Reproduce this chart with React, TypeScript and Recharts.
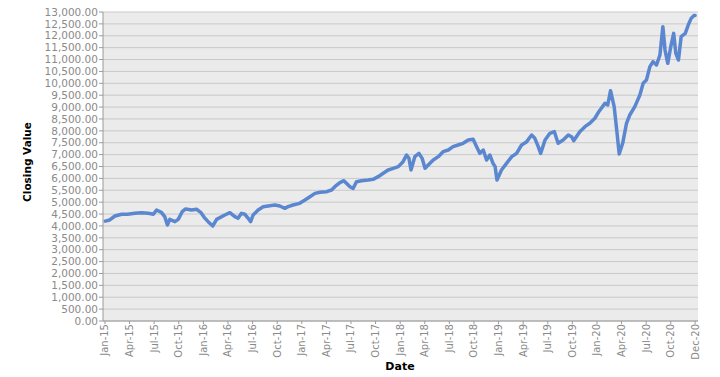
import React from 'react';
import { LineChart, Line, XAxis, YAxis, CartesianGrid } from 'recharts';

const dates: string[] = [
  '2015-01-02', '2015-01-19', '2015-02-07', '2015-03-02', '2015-03-25', '2015-04-20', '2015-05-15', '2015-06-09',
  '2015-06-28', '2015-07-10', '2015-07-28', '2015-08-10', '2015-08-20', '2015-08-29', '2015-09-17', '2015-09-29',
  '2015-10-14', '2015-10-27', '2015-11-18', '2015-12-06', '2015-12-22', '2016-01-04', '2016-01-19', '2016-02-05',
  '2016-02-19', '2016-03-20', '2016-04-08', '2016-04-26', '2016-05-08', '2016-05-21', '2016-06-03', '2016-06-15',
  '2016-06-24', '2016-07-03', '2016-07-22', '2016-08-10', '2016-09-04', '2016-09-23', '2016-10-11', '2016-10-30',
  '2016-11-11', '2016-11-29', '2016-12-24', '2017-01-13', '2017-02-01', '2017-02-18', '2017-03-08', '2017-04-02',
  '2017-04-20', '2017-05-02', '2017-05-21', '2017-06-05', '2017-06-21', '2017-06-27', '2017-07-09', '2017-07-22',
  '2017-08-10', '2017-09-04', '2017-09-22', '2017-10-11', '2017-10-30', '2017-11-17', '2017-12-06', '2017-12-25',
  '2018-01-12', '2018-01-25', '2018-02-03', '2018-02-10', '2018-02-23', '2018-03-10', '2018-03-22', '2018-04-02',
  '2018-04-20', '2018-05-02', '2018-05-21', '2018-06-08', '2018-06-27', '2018-07-15', '2018-08-03', '2018-08-22',
  '2018-09-10', '2018-09-28', '2018-10-11', '2018-10-23', '2018-11-05', '2018-11-17', '2018-11-29', '2018-12-11',
  '2018-12-19', '2018-12-26', '2019-01-12', '2019-01-31', '2019-02-18', '2019-03-07', '2019-03-26', '2019-04-14',
  '2019-05-02', '2019-05-14', '2019-05-27', '2019-06-05', '2019-06-21', '2019-07-09', '2019-07-26', '2019-08-09',
  '2019-08-28', '2019-09-16', '2019-09-28', '2019-10-06', '2019-10-29', '2019-11-17', '2019-12-05', '2019-12-24',
  '2020-01-08', '2020-01-31', '2020-02-10', '2020-02-20', '2020-03-04', '2020-03-15', '2020-03-23', '2020-04-05',
  '2020-04-19', '2020-05-01', '2020-05-20', '2020-06-08', '2020-06-20', '2020-07-02', '2020-07-15', '2020-07-27',
  '2020-08-09', '2020-08-22', '2020-09-02', '2020-09-10', '2020-09-20', '2020-10-01', '2020-10-12', '2020-10-20',
  '2020-10-30', '2020-11-09', '2020-11-24', '2020-12-05', '2020-12-16', '2020-12-26', '2020-12-31',
];

const closes: number[] = [
  4200, 4250, 4417, 4490, 4490, 4530, 4556, 4530,
  4490, 4670, 4573, 4390, 4040, 4277, 4178, 4277,
  4598, 4712, 4670, 4700, 4573, 4362, 4178, 3997,
  4277, 4460, 4556, 4390, 4320, 4530, 4490, 4320,
  4178, 4460, 4670, 4810, 4852, 4880, 4838, 4740,
  4810, 4880, 4950, 5090, 5230, 5370, 5414, 5440,
  5510, 5650, 5820, 5903, 5720, 5650, 5580, 5860,
  5903, 5932, 5960, 6072, 6213, 6353, 6423, 6493,
  6703, 6984, 6844, 6353, 6914, 7054, 6844, 6423,
  6633, 6773, 6914, 7124, 7194, 7334, 7404, 7475,
  7614, 7644, 7334, 7054, 7194, 6773, 6984, 6633,
  6493, 5932, 6353, 6633, 6914, 7054, 7404, 7545,
  7825, 7685, 7334, 7054, 7614, 7895, 7965, 7475,
  7614, 7825, 7754, 7585, 7965, 8175, 8320, 8530,
  8807, 9157, 9087, 9690, 9017, 7895, 7026, 7475,
  8316, 8666, 9017, 9508, 9999, 10139, 10700, 10910,
  10770, 11190, 12381, 11400, 10840, 11540, 12100, 11260,
  10980, 11960, 12100, 12450, 12730, 12850, 12850,
];

const tickDates: string[] = [
  '2015-01-01', '2015-04-01', '2015-07-01', '2015-10-01', '2016-01-01', '2016-04-01', '2016-07-01', '2016-10-01',
  '2017-01-01', '2017-04-01', '2017-07-01', '2017-10-01', '2018-01-01', '2018-04-01', '2018-07-01', '2018-10-01',
  '2019-01-01', '2019-04-01', '2019-07-01', '2019-10-01', '2020-01-01', '2020-04-01', '2020-07-01', '2020-10-01',
  '2020-12-31',
];
const tickLabels: string[] = [
  'Jan-15', 'Apr-15', 'Jul-15', 'Oct-15', 'Jan-16', 'Apr-16', 'Jul-16', 'Oct-16',
  'Jan-17', 'Apr-17', 'Jul-17', 'Oct-17', 'Jan-18', 'Apr-18', 'Jul-18', 'Oct-18',
  'Jan-19', 'Apr-19', 'Jul-19', 'Oct-19', 'Jan-20', 'Apr-20', 'Jul-20', 'Oct-20',
  'Dec-20',
];

const yTicks: number[] = [
  0, 500, 1000, 1500, 2000, 2500, 3000, 3500, 4000, 4500, 5000, 5500, 6000, 6500,
  7000, 7500, 8000, 8500, 9000, 9500, 10000, 10500, 11000, 11500, 12000, 12500, 13000,
];

function toMonths(d: string): number {
  const [y, m, day] = d.split('-').map(Number);
  const dim = new Date(y, m, 0).getDate();
  return (y - 2015) * 12 + (m - 1) + (day - 1) / dim;
}

const data = dates.map((d, i) => ({ t: toMonths(d), v: closes[i] }));
const xTicks = tickDates.map(toMonths);

const FONT = '"DejaVu Sans", Verdana, sans-serif';
const GRAY = '#8a8a8a';

const XTick = (props: any) => {
  const { x, y, payload } = props;
  const idx = xTicks.findIndex((t) => Math.abs(t - payload.value) < 1e-6);
  const label = idx >= 0 ? tickLabels[idx] : '';
  return (
    <text
      x={x}
      y={y}
      transform={`rotate(-90 ${x} ${y})`}
      textAnchor="end"
      dy="0.35em"
      fontSize={10}
      fontFamily={FONT}
      fill={GRAY}
    >
      {label}
    </text>
  );
};

const fmt = (v: number) =>
  v.toLocaleString('en-US', { minimumFractionDigits: 2, maximumFractionDigits: 2 });

export default function App() {
  return (
    <div style={{ position: 'absolute', left: 0, top: 0, width: 720, height: 377, background: '#ffffff' }}>
      <LineChart width={720} height={377} data={data} margin={{ top: 12, right: 22, bottom: 0, left: 0 }}>
        <CartesianGrid
          vertical={false}
          horizontal={true}
          stroke="#c9c9c9"
          fill="#ebebeb"
          fillOpacity={1}
        />
        <XAxis
          dataKey="t"
          type="number"
          domain={[-0.24, 72.32]}
          ticks={xTicks}
          interval={0}
          height={56}
          tick={<XTick />}
          tickSize={3}
          tickMargin={0}
          stroke="#9a9a9a"
          allowDataOverflow
          label={{
            content: () => (
              <text x={400} y={370} textAnchor="middle" fontSize={11} fontWeight="bold" fontFamily={FONT} fill="#000">
                Date
              </text>
            ),
          }}
        />
        <XAxis xAxisId="top" orientation="top" type="number" domain={[-0.24, 72.32]} height={0} tick={false} tickLine={false} stroke="#b0b0b0" />
        <YAxis
          type="number"
          domain={[0, 13000]}
          ticks={yTicks}
          interval={0}
          width={103}
          tickFormatter={fmt}
          tickSize={4}
          tickMargin={1}
          tick={{ fontSize: 10.5, fontFamily: FONT, fill: GRAY }}
          stroke="#9a9a9a"
          label={{
            content: () => (
              <text
                x={31}
                y={162}
                transform="rotate(-90 31 162)"
                textAnchor="middle"
                fontSize={10.5}
                fontWeight="bold"
                fontFamily={FONT}
                fill="#000"
              >
                Closing Value
              </text>
            ),
          }}
        />
        <YAxis yAxisId="right" orientation="right" width={0} tick={false} tickLine={false} stroke="#b0b0b0" />
        <Line
          type="linear"
          dataKey="v"
          stroke="#5b87d0"
          strokeWidth={3.5}
          dot={false}
          strokeLinejoin="round"
          strokeLinecap="round"
          isAnimationActive={false}
        />
      </LineChart>
    </div>
  );
}
